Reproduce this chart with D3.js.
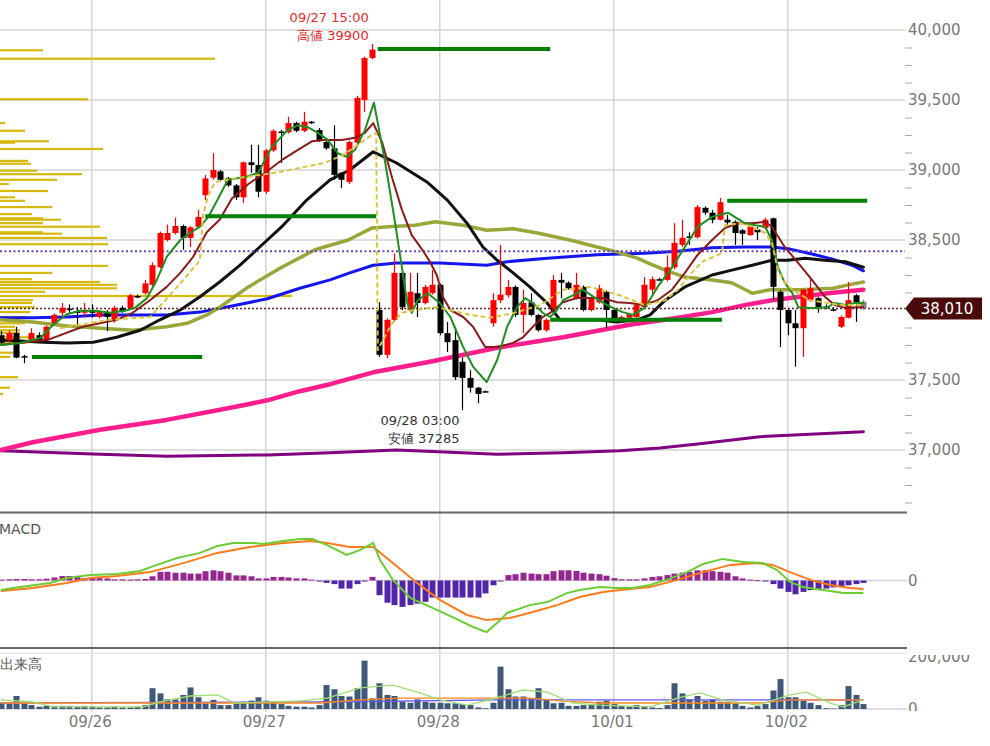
<!DOCTYPE html>
<html><head><meta charset="utf-8">
<script src="https://cdn.jsdelivr.net/npm/d3@7"></script>
<style>
html,body{margin:0;padding:0;background:#fff;}
svg{display:block;font-family:Verdana,"DejaVu Sans",sans-serif;}
</style></head><body>
<svg id="chart" width="990" height="746"></svg>
<script>
// ---------- DATA ----------
const opens  = [37820,37785,37835,37670,37785,37820,37785,37905,37980,38010,37990,37980,38000,37950,37980,37930,38015,38015,38100,38120,38180,38305,38500,38550,38600,38515,38595,38820,38945,38990,38940,38890,38805,39055,39035,38845,39140,39275,39270,39335,39280,39345,39285,39200,39155,38980,38915,39195,39500,39800,38000,37680,37930,38265,38000,38120,38050,38120,38180,37835,37785,37630,37515,37445,37420,37905,38070,38105,38165,37965,38055,37965,37855,38015,38215,38195,38085,38165,38000,38055,38130,38000,37930,37945,37950,38020,38145,38220,38215,38305,38465,38525,38520,38730,38695,38645,38645,38630,38570,38535,38575,38585,38655,38130,38000,37905,37870,38070,38085,38025,38005,37880,37945,38105,38060];
const highs  = [37850,37855,37880,37680,37870,37840,37890,37975,38050,38040,38020,38050,38040,38000,38000,38030,38030,38115,38110,38215,38340,38560,38610,38660,38610,38600,38715,38965,39120,39000,38950,38900,39060,39180,39180,39150,39290,39285,39380,39345,39415,39350,39300,39210,39320,38985,39210,39530,39810,39900,38055,37940,38405,38280,38265,38265,38180,38285,38190,37915,37880,37660,37570,37450,37425,38120,38465,38215,38175,38145,38120,37970,37940,38250,38265,38205,38265,38175,38095,38180,38140,38005,37960,37980,38045,38235,38240,38230,38390,38620,38645,38555,38750,38740,38715,38800,38680,38640,38580,38600,38595,38660,38660,38140,38005,38000,38150,38235,38095,38040,38020,37960,38200,38115,38075];
const lows   = [37750,37750,37655,37620,37770,37770,37780,37895,37945,37970,37880,37950,37945,37940,37850,37910,37980,38005,38085,38110,38170,38300,38490,38540,38430,38450,38585,38785,38930,38920,38880,38785,38765,38980,38805,38830,39130,39050,39260,39270,39270,39330,39200,39145,38930,38870,38900,39180,39415,39790,37665,37655,37920,38000,37990,37950,38040,38110,37820,37700,37500,37285,37410,37335,37415,37880,38050,38090,37950,37835,37955,37845,37845,38005,38085,38145,38075,37990,37990,38045,37870,37920,37910,37935,37940,38010,38100,38210,38205,38290,38450,38465,38510,38680,38620,38640,38600,38465,38465,38530,38500,38575,38070,37735,37820,37595,37665,38060,37980,38005,37990,37870,37940,37915,38000];
const closes = [37765,37835,37660,37665,37835,37780,37880,37965,38015,38000,37980,38000,37980,37985,37950,38015,37990,38105,38095,38190,38320,38550,38550,38600,38515,38590,38665,38940,39000,38930,38890,38805,39055,39035,38845,39140,39280,39270,39335,39280,39345,39340,39215,39155,38965,38930,39200,39515,39800,39860,37680,37930,38265,38020,38130,38050,38165,38180,37835,37770,37520,37515,37445,37400,37420,38070,38110,38165,37965,38050,37965,37855,37930,38215,38195,38155,38180,38000,38085,38155,38000,37930,37950,37970,38035,38180,38220,38220,38305,38480,38515,38515,38735,38695,38645,38770,38625,38550,38545,38595,38555,38645,38165,38000,37905,37870,38145,38155,38020,38020,38000,37950,38070,38055,38010];
const volumes = [24000,24000,50000,22000,15000,9000,12000,12000,12000,12000,9000,12000,9000,6000,6000,9000,6000,6000,9000,15000,80000,60000,37000,37000,54000,83000,45000,22000,35000,15000,15000,22000,28000,32000,45000,32000,28000,19000,12000,9000,9000,6000,15000,92000,76000,50000,48000,80000,186000,41000,99000,54000,50000,28000,24000,37000,28000,24000,24000,22000,22000,19000,15000,6000,3000,24000,163000,76000,48000,48000,41000,80000,37000,22000,24000,12000,12000,15000,15000,28000,32000,19000,12000,9000,15000,12000,6000,4000,15000,99000,60000,37000,50000,32000,37000,28000,28000,22000,12000,6000,12000,19000,71000,115000,45000,45000,32000,24000,15000,3000,2000,15000,88000,54000,19000];
const macdHist = [3,4,5,5,4,4,6,10,15,15,12,8,8,8,7,4,4,3,4,5,14,29,29,26,26,23,23,31,34,31,26,17,17,14,7,7,12,12,10,7,7,3,-1,-8,-12,-27,-27,-12,-2,12,-49,-74,-82,-88,-82,-77,-71,-57,-57,-57,-57,-57,-57,-57,-43,-16,0,18,21,26,23,21,21,31,34,34,32,26,23,21,16,8,4,4,4,7,12,14,18,23,26,29,34,34,31,29,26,14,7,3,1,-1,-12,-27,-38,-46,-38,-32,-32,-27,-23,-21,-16,-12,-8];

// moving average lines: [candle index, price]
const maGreen = [[0,37750],[2.5,37765],[5.2,37800],[6.9,37895],[8.7,37970],[10.4,37995],[12.4,37995],[14.4,37980],[16.4,37995],[17.7,38015],[19.3,38085],[20.6,38215],[21.9,38380],[23.7,38500],[25,38550],[26.3,38595],[27.4,38665],[28.6,38785],[30,38930],[32.3,38950],[34,38980],[35.8,39165],[37.9,39285],[39.3,39320],[40.6,39305],[41.9,39265],[43.2,39215],[44.5,39120],[45.7,39095],[46.8,39145],[48.1,39285],[49.3,39480],[50.8,39050],[52.1,38620],[53,38305],[53.7,38050],[54.3,37980],[55.1,38070],[56.4,38120],[58,38050],[59.4,37950],[61.1,37735],[62.4,37595],[64.2,37485],[65.6,37645],[66.9,37880],[68.2,38020],[69.3,38085],[70.3,38050],[71.6,37980],[72.6,37950],[73.5,38000],[74.3,38070],[75.6,38105],[76.9,38145],[78.3,38095],[79.6,38050],[80.9,38015],[82.2,37985],[83.5,37965],[85.1,38015],[86.8,38165],[88.7,38305],[90.4,38450],[92.1,38595],[94,38665],[96.1,38695],[97.3,38655],[98.3,38620],[99.7,38605],[101,38595],[101.9,38500],[102.7,38305],[103.6,38195],[104.6,38120],[105.4,38020],[106.7,38015],[108,38015],[109.3,38020],[110.2,38050],[111.6,38035],[112.9,38050],[114,38050]];
const maBrown = [[0,37750],[6.1,37785],[10.8,37880],[15.3,37930],[17.4,37980],[19.7,38070],[21.9,38165],[23.7,38265],[25.4,38380],[27.2,38555],[28.9,38645],[30.5,38795],[32.7,38900],[34.9,38980],[37.1,39070],[39.3,39145],[41.1,39205],[42.8,39215],[45.1,39215],[46.8,39230],[48.1,39265],[49.2,39335],[50.4,39195],[51.7,38945],[53,38715],[54.3,38535],[55.7,38430],[56.7,38345],[57.6,38250],[58.4,38095],[59.4,38000],[61.1,37950],[62.4,37880],[64,37735],[65.6,37735],[67.7,37765],[69,37805],[70.3,37880],[71.6,37950],[72.6,37980],[74.3,38055],[76.1,38085],[77.9,38085],[79.6,38085],[81.4,38055],[83.1,38050],[84.9,38035],[86.8,38070],[88.7,38145],[90.4,38265],[92.1,38395],[94,38500],[95.7,38585],[97.4,38620],[99.3,38620],[101,38630],[101.9,38595],[103.6,38450],[105.4,38335],[107.2,38215],[108.9,38095],[110.2,38035],[111.6,38015],[113.3,38020],[114,38020]];
const maYellow = [[7.8,37870],[14.4,37930],[19.7,37950],[23.3,38165],[26.3,38355],[26.7,38680],[27.4,38820],[28.3,38915],[31.6,38945],[36.2,38980],[39.5,39015],[42.8,39050],[45.1,39105],[46.8,39165],[49,39250],[49.6,39265],[49.8,37715],[51.7,37905],[53,37980],[54.7,38000],[57.4,38020],[59.4,38000],[62,37965],[64.6,37945],[67.9,37980],[71.3,38035],[74.3,38145],[77.9,38165],[81.8,38105],[85.1,38035],[87.8,38070],[89.5,38145],[91.3,38265],[92.7,38345],[95.3,38405],[95.7,38605],[97.7,38620],[99.3,38595],[101,38550],[101.9,38480],[102.7,38285],[103.6,38195],[104.6,38145],[106.9,38070],[110.9,38035],[114,38035]];
const maBlack = [[0,37785],[5.6,37770],[8.7,37765],[12.2,37770],[15.3,37805],[18.4,37855],[21,37930],[23.7,38000],[26.3,38095],[28.9,38200],[31.6,38320],[34.2,38450],[37.3,38605],[40.4,38785],[43.5,38930],[46.1,39000],[49.2,39130],[52.3,39050],[56.3,38915],[59,38785],[61.6,38620],[63.7,38450],[65.6,38355],[67.7,38265],[69.9,38165],[72.2,38050],[73.9,37930],[75.6,37930],[78.8,37930],[81.4,37915],[84.1,37930],[85.8,37965],[87.8,38070],[90.4,38165],[94,38250],[96.6,38285],[99.3,38320],[101.9,38355],[104,38355],[106.3,38370],[108.9,38355],[111.6,38345],[114,38305]];
const maOlive = [[0,37930],[4.2,37915],[8.7,37885],[13.1,37870],[17.4,37855],[21.9,37880],[24.6,37905],[27.2,37965],[28.9,38020],[32.7,38165],[37.1,38305],[41.5,38430],[45.9,38500],[49,38585],[51.2,38595],[54.7,38605],[57.4,38630],[61.1,38605],[64.2,38570],[67.7,38580],[70.9,38550],[75.2,38500],[78.8,38450],[81.4,38415],[84.1,38370],[85.8,38330],[87.8,38285],[90.4,38235],[94,38215],[96.6,38195],[99.3,38120],[101.7,38145],[105.6,38145],[110,38155],[112.5,38185],[114,38200]];
const maBlue = [[0,37945],[4.2,37945],[8.7,37950],[13.1,37965],[21.9,37965],[26.3,37985],[30.7,38030],[35.2,38080],[39.5,38155],[43.5,38215],[46.1,38265],[49.2,38320],[52.3,38335],[58,38335],[64.2,38320],[66.9,38345],[72.2,38370],[78.8,38395],[85.1,38405],[89.5,38420],[94,38445],[98.3,38450],[101.9,38450],[104.3,38435],[107.2,38400],[109.8,38365],[112.5,38320],[114,38280]];
const maPink = [[0,37000],[4.2,37055],[13.1,37145],[21.9,37215],[30.7,37305],[35.2,37355],[39.5,37420],[43.5,37470],[49.2,37555],[56.7,37630],[65.6,37730],[74.3,37805],[83.1,37895],[89.5,37945],[94,37985],[98.3,38035],[101.9,38070],[109.3,38120],[114,38145]];
const maPurple = [[0,36995],[13.1,36970],[21.9,36955],[35.2,36965],[43.5,36980],[52.3,37000],[65.6,36970],[74.3,36980],[81.8,36995],[87.1,37015],[92.4,37045],[100.3,37095],[114,37130]];

// horizontal high/low segments: start index, end index, price
const segStart = [49.8, 27.0, 4.1, 96.0, 72.6];
const segEnd   = [72.6, 49.6, 26.6, 114.5, 95.3];
const segPrice = [39865, 38670, 37665, 38780, 37930];
const refLevel = 38420;
const lastPrice = 38010;

// volume profile (price, volume)
const profilePrice = [39855,39795,39505,39335,39280,39205,39195,39150,39065,39045,38995,38970,38930,38900,38850,38805,38780,38735,38685,38655,38645,38620,38595,38555,38545,38515,38470,38315,38265,38220,38200,38180,38155,38130,38100,38070,38050,38020,37985,37950,37930,37905,37880,37855,37835,37805,37785,37765,37695,37665,37520,37445,37400];
const profileVol   = [8600,43000,17600,1000,5000,9800,3000,20600,5600,6200,7400,16400,11400,1800,9600,3000,5000,10400,6400,8600,12200,8600,20000,8600,12400,21400,21600,21600,10400,6400,20000,23400,23400,9000,58400,6600,6400,7000,6000,5000,4000,5000,3000,4000,4000,6000,3000,5000,4000,2000,3600,2000,600];

// MACD lines: [index, value]
const macdLine = [[0,-32],[2.5,-22],[6.5,-8],[8.7,8],[11.8,18],[15.3,22],[18.4,32],[20.6,52],[23.3,75],[26.3,92],[28.6,115],[30.7,125],[33.3,125],[34.6,122],[37.3,132],[39.5,138],[41.2,138],[43.1,118],[45.7,85],[47.5,102],[49.2,125],[50.1,68],[51.8,2],[54.1,-58],[57.1,-92],[59.7,-122],[62.4,-155],[64.2,-172],[66,-132],[66.9,-108],[69.9,-82],[72.2,-72],[74.8,-42],[76.5,-32],[79.2,-22],[81.4,-25],[83.5,-25],[85.8,-15],[88,2],[90.7,28],[92.8,55],[95.4,72],[98.1,62],[100.7,58],[102.6,35],[104.3,-5],[106,-22],[108.7,-32],[111.3,-42],[114,-42]];
const signalLine = [[0,-35],[4.2,-25],[8.7,-8],[11.8,8],[15.3,15],[19.7,28],[24.1,58],[28.6,92],[32.9,112],[37.3,125],[40.9,132],[43.1,125],[46.1,112],[49.2,112],[51.8,58],[55,-8],[58,-65],[61.6,-115],[64.2,-132],[67.3,-125],[70.3,-105],[73.5,-82],[76.5,-55],[79.6,-38],[83.1,-28],[85.8,-22],[89.4,2],[92.8,28],[96.4,52],[100,58],[102,52],[104.3,28],[107,2],[109.6,-15],[112.2,-25],[114,-28]];

// volume moving averages: [index, volume]
const volMaGreen = [[0,35000],[4.2,27000],[6.9,8000],[18.8,8000],[21,27000],[25,50000],[28.6,54000],[30.9,23000],[39.5,31000],[43.1,42000],[47.5,81000],[51.8,92000],[55.4,62000],[58,35000],[61.6,15000],[64.6,35000],[69,73000],[72.2,65000],[75.6,23000],[79.2,15000],[85.8,8000],[89.4,42000],[92.4,62000],[95.4,35000],[100,15000],[104.3,54000],[106.5,65000],[109.6,23000],[111.3,8000],[114,35000]];
const volMaOrange = [[0,23000],[42.2,23000],[47.5,35000],[52.7,42000],[64.6,42000],[69.9,42000],[73.9,31000],[79.2,23000],[100.3,23000],[104.3,35000],[114,35000]];
const volMaBlue = [[0,23000],[43.5,27000],[65.6,35000],[114,35000]];

// axis ticks / labels
const priceTicks = [37000,37500,38000,38500,39000,39500,40000];
const dayIdx = [12,35,58,81,104];
const dayLabels = ["09/26","09/27","09/28","10/01","10/02"];
const highIdx = 49, highText1 = "09/27 15:00", highText2 = "高値 39900", highVal = 39900;
const lowIdx = 61, lowText1 = "09/28 03:00", lowText2 = "安値 37285", lowVal = 37285;

// ---------- CHART ----------
const svg = d3.select("#chart");
const R = 905; // right edge of plot
const x = d3.scaleLinear().domain([0,114]).range([1,863.4]);
const y = d3.scaleLinear().domain([37000,40000]).range([450,30]);
const yM = d3.scaleLinear().domain([-225,225]).range([648,513]);
const yV = d3.scaleLinear().domain([0,200000]).range([709,657]);
const xP = d3.scaleLinear().domain([0,60000]).range([0,300]);

const shownTicks = priceTicks.filter(d => Math.abs(d - lastPrice) > 100);

const defs = svg.append("defs");
defs.append("clipPath").attr("id","cp").append("rect").attr("x",0).attr("y",0).attr("width",R).attr("height",512);
defs.append("clipPath").attr("id","cv").append("rect").attr("x",0).attr("y",655).attr("width",990).attr("height",56);

// grid
const grid = svg.append("g");
grid.selectAll(".hg").data(shownTicks).enter().append("line")
  .attr("x1",0).attr("x2",R).attr("y1",d=>y(d)).attr("y2",d=>y(d))
  .attr("stroke","#d4d4d4").attr("stroke-width",1.5);
grid.selectAll(".vg").data(dayIdx).enter().append("line")
  .attr("x1",d=>x(d)).attr("x2",d=>x(d)).attr("y1",0).attr("y2",712)
  .attr("stroke","#d4d4d4").attr("stroke-width",1.5);
grid.append("line").attr("x1",0).attr("x2",907).attr("y1",yM(0)).attr("y2",yM(0)).attr("stroke","#d4d4d4").attr("stroke-width",1.5);
grid.append("line").attr("x1",0).attr("x2",907).attr("y1",yV(0)).attr("y2",yV(0)).attr("stroke","#d4d4d4").attr("stroke-width",1.5);
grid.append("line").attr("x1",0).attr("x2",907).attr("y1",512.5).attr("y2",512.5).attr("stroke","#666").attr("stroke-width",2);
grid.append("line").attr("x1",0).attr("x2",907).attr("y1",648).attr("y2",648).attr("stroke","#666").attr("stroke-width",2);
grid.append("line").attr("x1",0).attr("x2",907).attr("y1",653).attr("y2",653).attr("stroke","#ddd").attr("stroke-width",1);

// price panel content
const P = svg.append("g").attr("clip-path","url(#cp)");

// volume profile
P.selectAll(".vp").data(profilePrice).enter().append("rect")
  .attr("x",0).attr("y",d=>y(d)-1.1).attr("height",2.2)
  .attr("width",(d,i)=>xP(profileVol[i]))
  .attr("fill","#d6b80e");

const line = d3.line().x(d=>x(d[0])).y(d=>y(d[1]));
function drawMA(data,color,w,dash){
  const p = P.append("path").datum(data).attr("d",line).attr("fill","none")
    .attr("stroke",color).attr("stroke-width",w).attr("stroke-linejoin","round").attr("stroke-linecap","round");
  if(dash) p.attr("stroke-dasharray",dash).attr("stroke-linecap","butt");
}
drawMA(maPurple,"#800080",3);
drawMA(maPink,"#ff1e8c",4.5);
drawMA(maBlue,"#1414f0",3);
drawMA(maOlive,"#9aa638",3.5);
drawMA(maBlack,"#111",3);

// reference dotted lines
P.append("line").attr("x1",0).attr("x2",R).attr("y1",y(refLevel)).attr("y2",y(refLevel))
  .attr("stroke","#6a40c4").attr("stroke-width",2).attr("stroke-dasharray","2,2.5");
P.append("line").attr("x1",0).attr("x2",R).attr("y1",y(lastPrice)).attr("y2",y(lastPrice))
  .attr("stroke","#5b2626").attr("stroke-width",1.5).attr("stroke-dasharray","2,2");

// candles
const idx = d3.range(opens.length);
const last = opens.length-1;
const cColor = i => i===last ? "#888" : (closes[i]>opens[i] ? "#ff0000" : "#000");
const C = P.append("g");
C.selectAll(".wk").data(idx).enter().append("line")
  .attr("x1",i=>Math.round(x(i))+0.5).attr("x2",i=>Math.round(x(i))+0.5)
  .attr("y1",i=>y(highs[i])).attr("y2",i=>y(lows[i]))
  .attr("stroke",cColor).attr("stroke-width",1.2);
C.selectAll(".bd").data(idx).enter().append("rect")
  .attr("x",i=>Math.round(x(i))-2.5).attr("width",6)
  .attr("y",i=>y(Math.max(opens[i],closes[i])))
  .attr("height",i=>Math.max(1.5,Math.abs(y(opens[i])-y(closes[i]))))
  .attr("fill",cColor);

drawMA(maBrown,"#8b1a1a",2);
drawMA(maGreen,"#1f8f1f",2);
drawMA(maYellow,"#d9c43a",2,"5,3");

// horizontal segments
P.selectAll(".seg").data(segPrice).enter().append("line")
  .attr("x1",(d,i)=>x(segStart[i])).attr("x2",(d,i)=>x(segEnd[i]))
  .attr("y1",d=>y(d)).attr("y2",d=>y(d))
  .attr("stroke","#008000").attr("stroke-width",4);

// annotations
const ann = svg.append("g").style("font-size","13px").attr("text-anchor","end");
ann.append("text").attr("x",x(highIdx)-3).attr("y",y(highVal)-22).attr("fill","#e82a2a").text(highText1);
ann.append("text").attr("x",x(highIdx)-3).attr("y",y(highVal)-4).attr("fill","#e82a2a").text(highText2);
ann.append("text").attr("x",x(lowIdx)-3).attr("y",y(lowVal)+15).attr("fill","#333").text(lowText1);
ann.append("text").attr("x",x(lowIdx)-3).attr("y",y(lowVal)+33).attr("fill","#333").text(lowText2);

// price axis
const ax = svg.append("g").attr("transform",`translate(${R},0)`)
  .call(d3.axisRight(y).tickValues(shownTicks).tickSize(0).tickPadding(3).tickFormat(d3.format(",")));
const minor = d3.range(36625,40000,125).filter(v=>v%500!==0);
const axm = svg.append("g").attr("transform",`translate(${R},0)`)
  .call(d3.axisRight(y).tickValues(minor).tickSize(7).tickFormat(""));
axm.selectAll("line").attr("stroke","#aaa");

// MACD panel
const histX = i => Math.round(x(i))-2.5;
svg.selectAll(".hb").data(idx).enter().append("rect")
  .attr("x",histX).attr("width",6)
  .attr("y",i=>macdHist[i]>=0?yM(macdHist[i]):yM(0))
  .attr("height",i=>Math.max(1,Math.abs(yM(macdHist[i])-yM(0))))
  .attr("fill",i=>macdHist[i]>=0?"#962690":"#5126a8");
const mline = d3.line().x(d=>x(d[0])).y(d=>yM(d[1]));
svg.append("path").datum(signalLine).attr("d",mline).attr("fill","none").attr("stroke","#ff7a1a").attr("stroke-width",2);
svg.append("path").datum(macdLine).attr("d",mline).attr("fill","none").attr("stroke","#6ccc35").attr("stroke-width",2);
const axM = svg.append("g").attr("transform",`translate(${R},0)`)
  .call(d3.axisRight(yM).tickValues([0]).tickSize(0).tickPadding(3));
svg.append("text").attr("x",-1).attr("y",534).attr("fill","#555").style("font-size","14px").text("MACD");

// Volume panel
const V = svg.append("g");
V.selectAll(".vb").data(idx).enter().append("rect")
  .attr("x",histX).attr("width",6)
  .attr("y",i=>yV(volumes[i])).attr("height",i=>yV(0)-yV(volumes[i]))
  .attr("fill","#3f5878");
const vline = d3.line().x(d=>x(d[0])).y(d=>yV(d[1]));
V.append("path").datum(volMaBlue).attr("d",vline).attr("fill","none").attr("stroke","#6a5ae8").attr("stroke-width",1.3);
V.append("path").datum(volMaOrange).attr("d",vline).attr("fill","none").attr("stroke","#ff8a20").attr("stroke-width",1.3);
V.append("path").datum(volMaGreen).attr("d",vline).attr("fill","none").attr("stroke","#9ee070").attr("stroke-width",1.3);
const axV = svg.append("g").attr("clip-path","url(#cv)").append("g").attr("transform",`translate(${R},0)`)
  .call(d3.axisRight(yV).tickValues([0,200000]).tickSize(0).tickPadding(3).tickFormat(d3.format(",")));
svg.append("text").attr("x",0).attr("y",669).attr("fill","#555").style("font-size","14px").text("出来高");

// date axis
const axD = svg.append("g").attr("transform","translate(-2,712)")
  .call(d3.axisBottom(x).tickValues(dayIdx).tickSize(0).tickPadding(4).tickFormat((d,i)=>dayLabels[i]));

[ax,axM,axV,axD].forEach(g=>{
  g.select(".domain").remove();
  g.selectAll("text").attr("fill","#777").style("font-size","15px").style("font-family","Verdana,'DejaVu Sans',sans-serif");
});
axm.select(".domain").remove();

// last price tag
const yc = y(lastPrice);
svg.append("path").attr("d",`M${R},${yc} L${R+9},${yc-11} L982,${yc-11} L982,${yc+11} L${R+9},${yc+11} Z`).attr("fill","#4a0a0a");
svg.append("text").attr("x",947).attr("y",yc+5.5).attr("text-anchor","middle").attr("fill","#fff")
  .style("font-size","15px").text(d3.format(",")(lastPrice));
</script>
</body></html>
